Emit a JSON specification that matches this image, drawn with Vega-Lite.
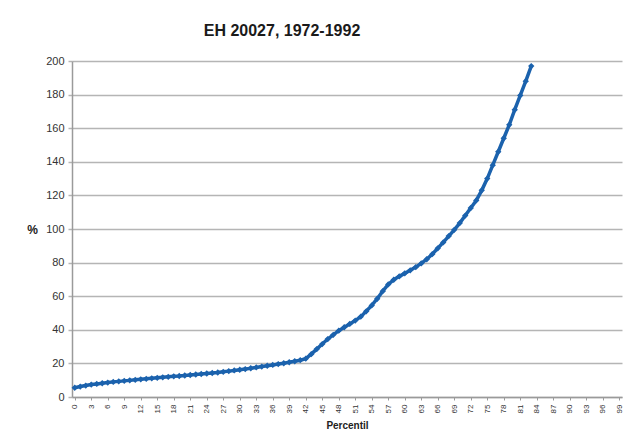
{
  "$schema": "https://vega.github.io/schema/vega-lite/v6.json",
  "autosize": {"type": "none"},
  "padding": {"left": 72, "top": 61, "right": 4, "bottom": 43},
  "width": 550,
  "height": 336,
  "background": "white",
  "title": {
    "text": "EH 20027, 1972-1992",
    "font": "Liberation Sans",
    "fontSize": 16,
    "fontWeight": "bold",
    "color": "#1a1a1a",
    "anchor": "middle",
    "dx": -65,
    "offset": 16
  },
  "data": {
    "values": [
      {"p": 0, "v": 5.5}, {"p": 1, "v": 6.2}, {"p": 2, "v": 6.8}, {"p": 3, "v": 7.4}, {"p": 4, "v": 7.8},
      {"p": 5, "v": 8.2}, {"p": 6, "v": 8.6}, {"p": 7, "v": 9.0}, {"p": 8, "v": 9.3}, {"p": 9, "v": 9.6},
      {"p": 10, "v": 9.9}, {"p": 11, "v": 10.2}, {"p": 12, "v": 10.5}, {"p": 13, "v": 10.8}, {"p": 14, "v": 11.1},
      {"p": 15, "v": 11.4}, {"p": 16, "v": 11.7}, {"p": 17, "v": 12.0}, {"p": 18, "v": 12.3}, {"p": 19, "v": 12.5},
      {"p": 20, "v": 12.8}, {"p": 21, "v": 13.1}, {"p": 22, "v": 13.4}, {"p": 23, "v": 13.7}, {"p": 24, "v": 14.0},
      {"p": 25, "v": 14.3}, {"p": 26, "v": 14.6}, {"p": 27, "v": 15.0}, {"p": 28, "v": 15.4}, {"p": 29, "v": 15.8},
      {"p": 30, "v": 16.2}, {"p": 31, "v": 16.6}, {"p": 32, "v": 17.1}, {"p": 33, "v": 17.6}, {"p": 34, "v": 18.1},
      {"p": 35, "v": 18.6}, {"p": 36, "v": 19.1}, {"p": 37, "v": 19.6}, {"p": 38, "v": 20.1}, {"p": 39, "v": 20.7},
      {"p": 40, "v": 21.3}, {"p": 41, "v": 21.9}, {"p": 42, "v": 22.8}, {"p": 43, "v": 25.5}, {"p": 44, "v": 28.5},
      {"p": 45, "v": 31.5}, {"p": 46, "v": 34.5}, {"p": 47, "v": 37.0}, {"p": 48, "v": 39.5}, {"p": 49, "v": 41.5},
      {"p": 50, "v": 43.5}, {"p": 51, "v": 45.5}, {"p": 52, "v": 47.8}, {"p": 53, "v": 51.0}, {"p": 54, "v": 54.5},
      {"p": 55, "v": 58.5}, {"p": 56, "v": 63.0}, {"p": 57, "v": 67.0}, {"p": 58, "v": 69.8}, {"p": 59, "v": 71.8},
      {"p": 60, "v": 73.6}, {"p": 61, "v": 75.4}, {"p": 62, "v": 77.3}, {"p": 63, "v": 79.5}, {"p": 64, "v": 82.0},
      {"p": 65, "v": 85.0}, {"p": 66, "v": 88.5}, {"p": 67, "v": 92.0}, {"p": 68, "v": 95.8}, {"p": 69, "v": 99.5},
      {"p": 70, "v": 103.5}, {"p": 71, "v": 108.0}, {"p": 72, "v": 112.5}, {"p": 73, "v": 117.0}, {"p": 74, "v": 123.0},
      {"p": 75, "v": 130.0}, {"p": 76, "v": 138.0}, {"p": 77, "v": 146.0}, {"p": 78, "v": 154.0}, {"p": 79, "v": 162.0},
      {"p": 80, "v": 171.0}, {"p": 81, "v": 179.5}, {"p": 82, "v": 188.0}, {"p": 83, "v": 197.0}
    ]
  },
  "mark": {
    "type": "line",
    "color": "#1b62ad",
    "strokeWidth": 3.5,
    "point": {"shape": "diamond", "size": 40, "filled": true, "color": "#1b62ad"}
  },
  "encoding": {
    "x": {
      "field": "p",
      "type": "quantitative",
      "scale": {"domain": [-0.5, 99.5], "nice": false, "zero": false},
      "axis": {
        "title": "Percentil",
        "titleFont": "Liberation Sans",
        "titleFontSize": 10,
        "titleFontWeight": "bold",
        "titleColor": "#222",
        "titlePadding": 8,
        "values": [0,3,6,9,12,15,18,21,24,27,30,33,36,39,42,45,48,51,54,57,60,63,66,69,72,75,78,81,84,87,90,93,96,99],
        "labelAngle": -90,
        "labelAlign": "right",
        "labelBaseline": "middle",
        "labelFont": "Liberation Sans",
        "labelFontSize": 8,
        "labelColor": "#333",
        "labelPadding": 4,
        "labelOverlap": false,
        "labelFlush": false,
        "grid": false,
        "domainColor": "#9a9a9a",
        "domainWidth": 1.5,
        "tickColor": "#9a9a9a",
        "tickSize": 3
      }
    },
    "y": {
      "field": "v",
      "type": "quantitative",
      "scale": {"domain": [0, 200], "nice": false},
      "axis": {
        "title": "%",
        "titleAngle": 0,
        "titleX": -40,
        "titleY": 168,
        "titleAlign": "center",
        "titleBaseline": "middle",
        "titleFont": "Liberation Sans",
        "titleFontSize": 12,
        "titleFontWeight": "bold",
        "titleColor": "#222",
        "values": [0,20,40,60,80,100,120,140,160,180,200],
        "labelFont": "Liberation Sans",
        "labelFontSize": 11,
        "labelColor": "#333",
        "labelPadding": 4,
        "grid": true,
        "gridColor": "#b5b5b5",
        "gridWidth": 1.5,
        "domainColor": "#9a9a9a",
        "domainWidth": 1.5,
        "tickColor": "#b5b5b5",
        "tickSize": 4,
        "tickWidth": 1.5
      }
    }
  },
  "config": {
    "view": {"stroke": null}
  }
}
